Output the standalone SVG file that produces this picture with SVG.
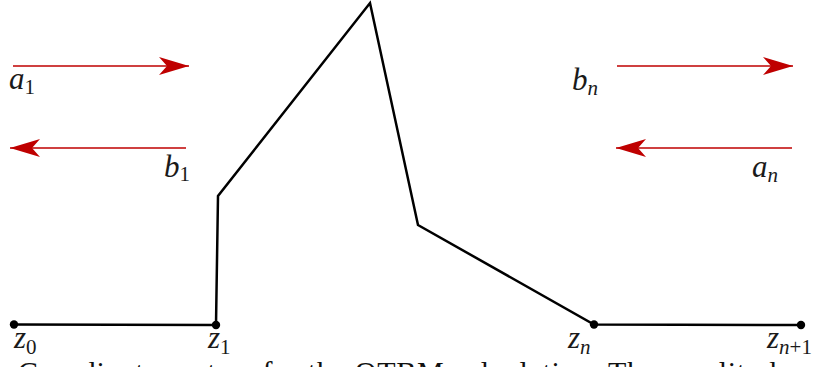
<svg xmlns="http://www.w3.org/2000/svg" width="823" height="367" viewBox="0 0 823 367">
<style>
.lbl{font-family:"Liberation Serif","DejaVu Serif",serif;font-size:31px;font-style:italic;fill:#1a1a1a}
.sub{font-size:21px}
.up{font-style:normal}
.arr{stroke:#bf0000;stroke-width:1.7;fill:none;marker-end:url(#head)}
.pot{stroke:#000;stroke-width:2.5;fill:none;stroke-linejoin:miter}
.dot{fill:#000}
.cap{font-family:"Liberation Serif","DejaVu Serif",serif;font-size:30px;fill:#111}
</style>
<defs>
<marker id="head" markerUnits="userSpaceOnUse" viewBox="0 0 32 20" markerWidth="32" markerHeight="20" refX="31" refY="10" orient="auto">
<path d="M31,10 L1,1 L9,10 L1,19 Z" fill="#bf0000"/>
</marker>
</defs>
<g id="connectors">
<path class="pot" d="M14,324.5 L216,325 L218,196 L370,3 L418,225 L594,324.5 L801,325"/>
<line class="arr" x1="13" y1="66" x2="189" y2="66"/>
<line class="arr" x1="186" y1="148" x2="10" y2="148"/>
<line class="arr" x1="617" y1="66" x2="793" y2="66"/>
<line class="arr" x1="792" y1="148" x2="616" y2="148"/>
</g>
<g id="z0"><circle class="dot" cx="14" cy="324.5" r="4.2"/><text class="lbl" x="14" y="348">z<tspan class="sub up" dy="6">0</tspan></text></g>
<g id="z1"><circle class="dot" cx="216" cy="325" r="4.2"/><text class="lbl" x="208" y="348">z<tspan class="sub up" dy="6">1</tspan></text></g>
<g id="zn"><circle class="dot" cx="594" cy="324.5" r="4.2"/><text class="lbl" x="568" y="348">z<tspan class="sub" dy="6">n</tspan></text></g>
<g id="zn1"><circle class="dot" cx="801" cy="325" r="4.2"/><text class="lbl" x="767" y="348">z<tspan class="sub" dy="6">n</tspan><tspan class="sub up">+1</tspan></text></g>
<g id="a1"><text class="lbl" x="9" y="89">a<tspan class="sub up" dy="5">1</tspan></text></g>
<g id="b1"><text class="lbl" x="164" y="177">b<tspan class="sub up" dy="4">1</tspan></text></g>
<g id="bn"><text class="lbl" x="572" y="90">b<tspan class="sub" dy="5">n</tspan></text></g>
<g id="an"><text class="lbl" x="752" y="177">a<tspan class="sub" dy="5">n</tspan></text></g>
<text class="cap" y="382"><tspan x="18" textLength="785" lengthAdjust="spacing">Coordinate system for the QTBM calculation. The amplitudes</tspan><tspan x="816">of</tspan></text>
</svg>
